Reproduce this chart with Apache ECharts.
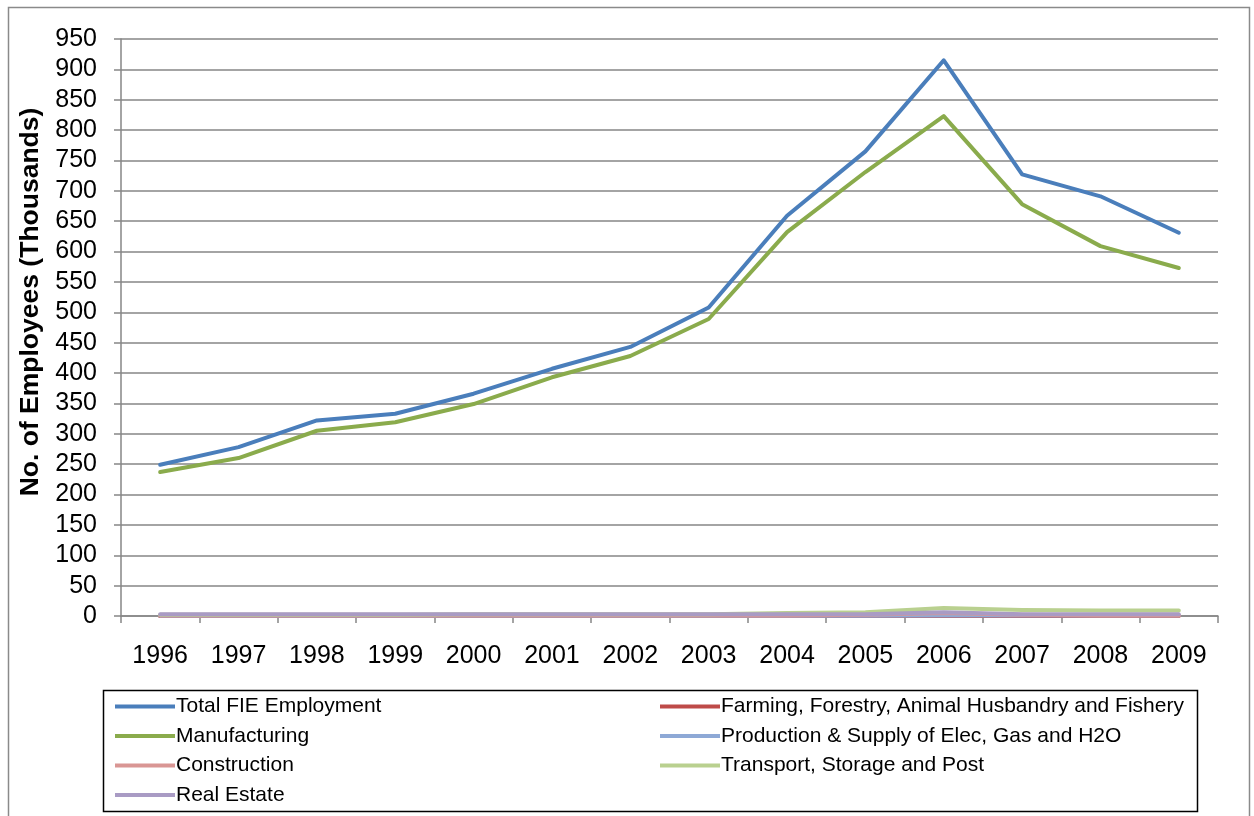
<!DOCTYPE html>
<html><head><meta charset="utf-8">
<script src="https://cdn.jsdelivr.net/npm/echarts@6/dist/echarts.min.js"></script>
<style>html,body{margin:0;padding:0;background:#fff}#c{width:1254px;height:816px}</style>
</head><body><div id="c"></div>
<script>
const years = ['1996','1997','1998','1999','2000','2001','2002','2003','2004','2005','2006','2007','2008','2009'];
const totalFIE = [249,278,322,333,366,407,443,508,659,765,915,727,691,631];
const farming = [-0.5,-0.5,-0.5,0,0,0,0,0,0,0,0,0,0,0];
const manufacturing = [237,260,305,319,349,393,428,489,632,731,823,678,609,573];
const elec = [0.5,0.5,0.5,0.5,0.5,0.5,0.5,0.5,0.5,0.5,1,1,1,1];
const construction = [1,1,1,1,1,1,1,1,1,2,5,2,1,1];
const transport = [2,2,2,2,3,3,3,3,5,6,13,10,9,9];
const realEstate = [3,3,3,3,3,3,3,3,3,3,6,3,3,3];
const yTicks = {min:0, max:950, interval:50};
const yTitle = 'No. of Employees (Thousands)';

const FONT = '"Liberation Sans", Arial, sans-serif';
const seriesDefs = [
  ['Total FIE Employment', totalFIE, '#4A7EBB'],
  ['Farming, Forestry, Animal Husbandry and Fishery', farming, '#BE4B48'],
  ['Manufacturing', manufacturing, '#8AAB4C'],
  ['Production & Supply of Elec, Gas and H2O', elec, '#8EA9D6'],
  ['Construction', construction, '#D99694'],
  ['Transport, Storage and Post', transport, '#B9D08F'],
  ['Real Estate', realEstate, '#A99BC4']
];
const chart = echarts.init(document.getElementById('c'), null, {renderer:'canvas'});
const legendCommon = {
  orient:'vertical', itemWidth:60, itemHeight:14, itemGap:4.5, height:140, padding:0,
  textStyle:{fontFamily:FONT, fontSize:21, lineHeight:25, color:'#000', padding:[0,0,0,-4]},
  icon:'path://M0,0 L60,0 L60,4 L0,4 Z'
};
chart.setOption({
  animation:false,
  backgroundColor:'#fff',
  graphic:[
    {type:'rect', shape:{x:8.5,y:7.5,width:1241,height:820}, style:{fill:'none', stroke:'#8a8a8a', lineWidth:1.5}},
    {type:'rect', shape:{x:103.5,y:690.5,width:1094,height:121}, style:{fill:'none', stroke:'#000', lineWidth:1.5}},
    {type:'text', x:31, y:302, rotation:Math.PI/2,
     style:{text:yTitle, fontFamily:FONT, fontSize:26.5, fontWeight:'bold', fill:'#000', align:'center', verticalAlign:'middle'}}
  ],
  grid:{left:121, top:39, right:36, bottom:200},
  legend:[
    Object.assign({left:115, top:694, data:seriesDefs.filter((s,i)=>i%2===0).map(s=>s[0])}, legendCommon),
    Object.assign({left:660, top:694, data:seriesDefs.filter((s,i)=>i%2===1).map(s=>s[0])}, legendCommon)
  ],
  xAxis:{
    type:'category', data:years, boundaryGap:true,
    axisLine:{lineStyle:{color:'#868686', width:1.5}},
    axisTick:{show:true, alignWithLabel:false, length:7, lineStyle:{color:'#868686', width:1.5}},
    axisLabel:{fontFamily:FONT, fontSize:25, color:'#000', margin:28}
  },
  yAxis:{
    type:'value', min:yTicks.min, max:yTicks.max, interval:yTicks.interval,
    axisLine:{show:true, lineStyle:{color:'#868686', width:1.5}},
    axisTick:{show:true, length:7, lineStyle:{color:'#868686', width:1.5}},
    splitLine:{lineStyle:{color:'#868686', width:1.5}},
    axisLabel:{fontFamily:FONT, fontSize:25, color:'#000', margin:24}
  },
  series: seriesDefs.map(s=>({
    name:s[0], type:'line', data:s[1], symbol:'none', showSymbol:false,
    lineStyle:{width:4, color:s[2], cap:'round', join:'round'},
    itemStyle:{color:s[2]}
  }))
});
</script></body></html>
